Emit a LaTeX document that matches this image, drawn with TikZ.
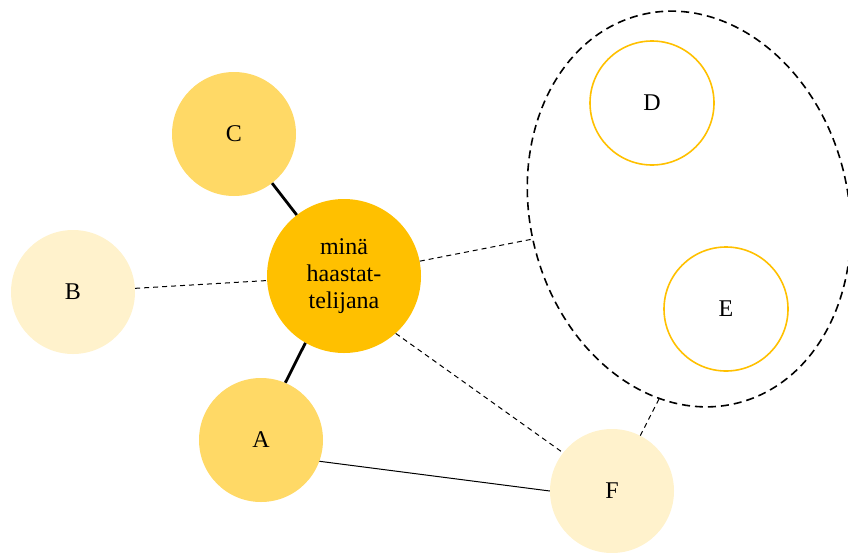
\documentclass[tikz,border=0pt]{standalone}
\usepackage{fontspec}
\setmainfont{Liberation Serif}
\usetikzlibrary{shapes.geometric}
\definecolor{gold}{HTML}{FFC000}
\definecolor{lgold}{HTML}{FFD966}
\definecolor{pgold}{HTML}{FFF2CC}
\tikzset{
  bub/.style={circle, minimum size=124pt, inner sep=0pt, font=\fontsize{24}{27}\selectfont},
  strong/.style={line width=2.8pt},
  weak/.style={line width=1pt, dash pattern=on 5pt off 4pt},
  group/.style={draw, ellipse, line width=1.6pt, dash pattern=on 8pt off 5pt, minimum width=318pt, minimum height=400pt, inner sep=0pt}
}
\begin{document}
\begin{tikzpicture}[x=1pt,y=-1pt]
\useasboundingbox (0,0) rectangle (848,552);
\node[group, rotate=14] (G) at (689,209) {};
\node[bub, fill=gold, minimum size=154pt, align=center] (M) at (344,276) {minä\\haastat-\\telijana};
\node[bub, fill=lgold] (C) at (234,134) {C};
\node[bub, fill=pgold] (B) at (73,292) {B};
\node[bub, fill=lgold] (A) at (261,440) {A};
\node[bub, fill=pgold] (F) at (612,491) {F};
\node[bub, draw=gold, line width=1.6pt] (D) at (652,103) {D};
\node[bub, draw=gold, line width=1.6pt] (E) at (726,309) {E};
\coordinate (g1) at (533,239);
\coordinate (g2) at (660,397);
\draw[strong] (C) -- (M);
\draw[strong] (A.67) -- (M.240);
\draw[weak] (B) -- (M);
\draw[weak] (M) -- (g1);
\draw[weak] (M.-48) -- (F.142);
\draw[weak] (F) -- (g2);
\draw[line width=1pt] (A.-20) -- (F.west);
\end{tikzpicture}
\end{document}
